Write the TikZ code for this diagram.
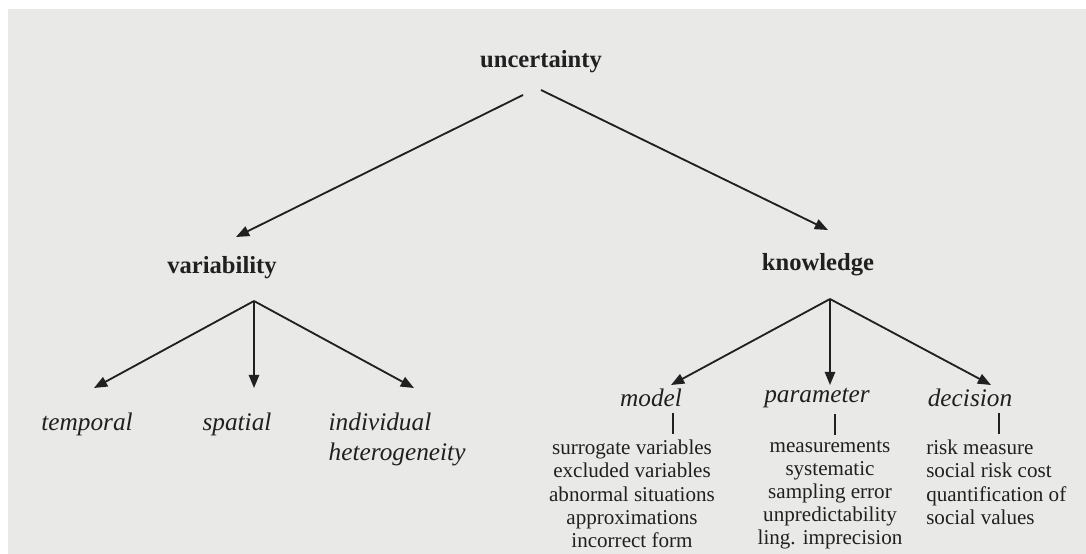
\documentclass[tikz,border=0pt]{standalone}
\usepackage{fontspec}
\setmainfont{Liberation Serif}
\usetikzlibrary{positioning,arrows.meta,calc}
\definecolor{ink}{RGB}{32,32,32}
\definecolor{paper}{RGB}{233,233,231}
\tikzset{
  head/.style={font=\fontsize{17.5}{20}\selectfont\bfseries, text=ink, inner sep=1pt},
  kind/.style={font=\fontsize{18}{21.5}\selectfont\itshape, text=ink, inner sep=1pt},
  items/.style={font=\fontsize{15}{16.4}\selectfont, text=ink, inner sep=0pt, align=center},
  branch/.style={-{Triangle[length=3.3mm,width=2.6mm]}, line width=1.3pt, draw=ink},
  tick/.style={line width=1.4pt, draw=ink},
}
\begin{document}
\begin{tikzpicture}[x=0.25mm,y=-0.25mm]
  \fill[white] (0,0) rectangle (1086,554);
  \fill[paper] (8,9) rectangle (1086,554);
  \useasboundingbox (0,0) rectangle (1086,554);
  % top level
  \node[head] (unc) at (541,62) {uncertainty};
  \node[head] (var) at (222,268) {variability};
  \node[head] (know) at (818,265) {knowledge};
  \coordinate (unc-l) at (523,95);
  \coordinate (unc-r) at (541,90);
  \coordinate (var-in) at (236,237);
  \coordinate (know-in) at (828,230);
  \draw[branch] (unc-l) -- (var-in);
  \draw[branch] (unc-r) -- (know-in);
  % variability
  \node[kind] (temp) at (87,424) {temporal};
  \node[kind] (spat) at (237,424) {spatial};
  \node[kind, align=left, anchor=north west] (indiv) at (327,411) {individual\\heterogeneity};
  \coordinate (var-hub) at (254,301);
  \coordinate (temp-in) at (94,388);
  \coordinate (spat-in) at (254,388);
  \coordinate (indiv-in) at (414,388);
  \foreach \t in {temp-in,spat-in,indiv-in}
    \draw[branch] (var-hub) -- (\t);
  % knowledge
  \node[kind] (model) at (651,398) {model};
  \node[kind] (param) at (817,398) {parameter};
  \node[kind] (dec) at (970,398) {decision};
  \coordinate (know-hub) at (830,299);
  \coordinate (model-in) at (671,385);
  \coordinate (param-in) at (830,385);
  \coordinate (dec-in) at (991,385);
  \foreach \t in {model-in,param-in,dec-in}
    \draw[branch] (know-hub) -- (\t);
  % lists
  \node[items, anchor=north] (model-l) at (632,440)
    {surrogate variables\\excluded variables\\abnormal situations\\approximations\\incorrect form};
  \node[items, anchor=north] (param-l) at (830,440)
    {measurements\\systematic\\sampling error\\unpredictability\\ling. imprecision};
  \node[items, align=left, anchor=north west] (dec-l) at (926,440)
    {risk measure\\social risk cost\\quantification of\\social values};
  \draw[tick] (673,413) -- (673,434);
  \draw[tick] (835,414) -- (835,435);
  \draw[tick] (999,413) -- (999,434);
\end{tikzpicture}
\end{document}
